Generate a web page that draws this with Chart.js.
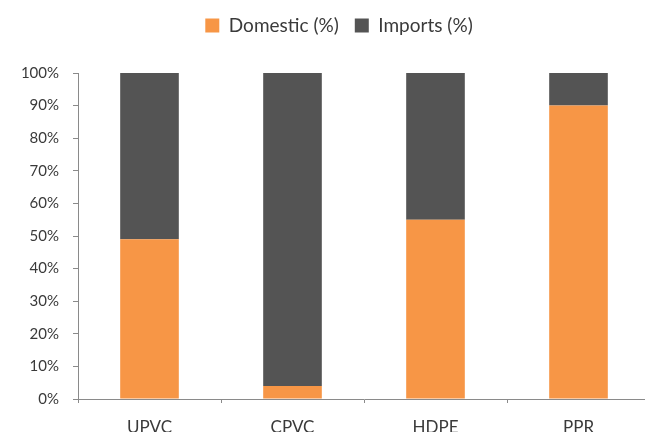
<!DOCTYPE html>
<html>
<head>
<meta charset="utf-8">
<script src="https://cdn.jsdelivr.net/npm/chart.js@4/dist/chart.umd.min.js"></script>
<style>
html,body{margin:0;padding:0;background:#fff;overflow:hidden;}
#wrap{width:650px;height:432px;position:relative;}
</style>
</head>
<body>
<div id="wrap"><canvas id="c" width="650" height="432"></canvas></div>
<script>
const categories = ["UPVC", "CPVC", "HDPE", "PPR"];
const domestic = [49, 4, 55, 90];
const imports = [51, 96, 45, 10];
const yTicks = [0,10,20,30,40,50,60,70,80,90,100];

const FONT = "Lato, 'Open Sans', sans-serif";
const TXT = "#3a3a3a";
const AX = "#8a8a8a";

const legendLayout = {
  id: 'legendLayout',
  afterInit(chart) {
    const lg = chart.legend;
    if (!lg) return;
    const orig = lg.fit.bind(lg);
    lg.fit = function() { orig(); this.height = 73; };
  },
  afterLayout(chart) {
    const lg = chart.legend;
    if (!lg) return;
    lg.left += 14; lg.right += 14;
  }
};

new Chart(document.getElementById('c'), {
  type: 'bar',
  data: {
    labels: categories,
    datasets: [
      { label: 'Domestic (%)', data: domestic, backgroundColor: '#F79646', borderWidth: 0, barPercentage: 0.41, categoryPercentage: 1.0 },
      { label: 'Imports (%)', data: imports, backgroundColor: '#545454', borderWidth: 0, barPercentage: 0.41, categoryPercentage: 1.0 }
    ]
  },
  plugins: [legendLayout],
  options: {
    responsive: false,
    animation: false,
    layout: { padding: { top: 0, right: 0, left: 0, bottom: 0 } },
    plugins: {
      tooltip: { enabled: false },
      legend: {
        position: 'top',
        labels: {
          boxWidth: 14, boxHeight: 14, padding: 16,
          color: TXT,
          font: { family: FONT, size: 19 }
        }
      }
    },
    scales: {
      x: {
        stacked: true,
        grid: { display: true, drawOnChartArea: false, drawTicks: true, tickLength: 4, color: AX, offset: true },
        border: { display: true, color: AX, width: 1 },
        ticks: { color: TXT, font: { family: FONT, size: 17 }, padding: 14, maxRotation: 0 },
        afterFit: s => { s.height = 33; }
      },
      y: {
        stacked: true,
        min: 0, max: 100,
        afterBuildTicks: s => { s.ticks = yTicks.map(v => ({ value: v })); },
        grid: { display: true, drawOnChartArea: false, drawTicks: true, tickLength: 5, color: AX },
        border: { display: true, color: AX, width: 1 },
        ticks: { color: TXT, font: { family: FONT, size: 15 }, padding: 14, callback: v => v + '%' },
        afterFit: s => { s.width = 78; }
      }
    }
  }
});
</script>
</body>
</html>
